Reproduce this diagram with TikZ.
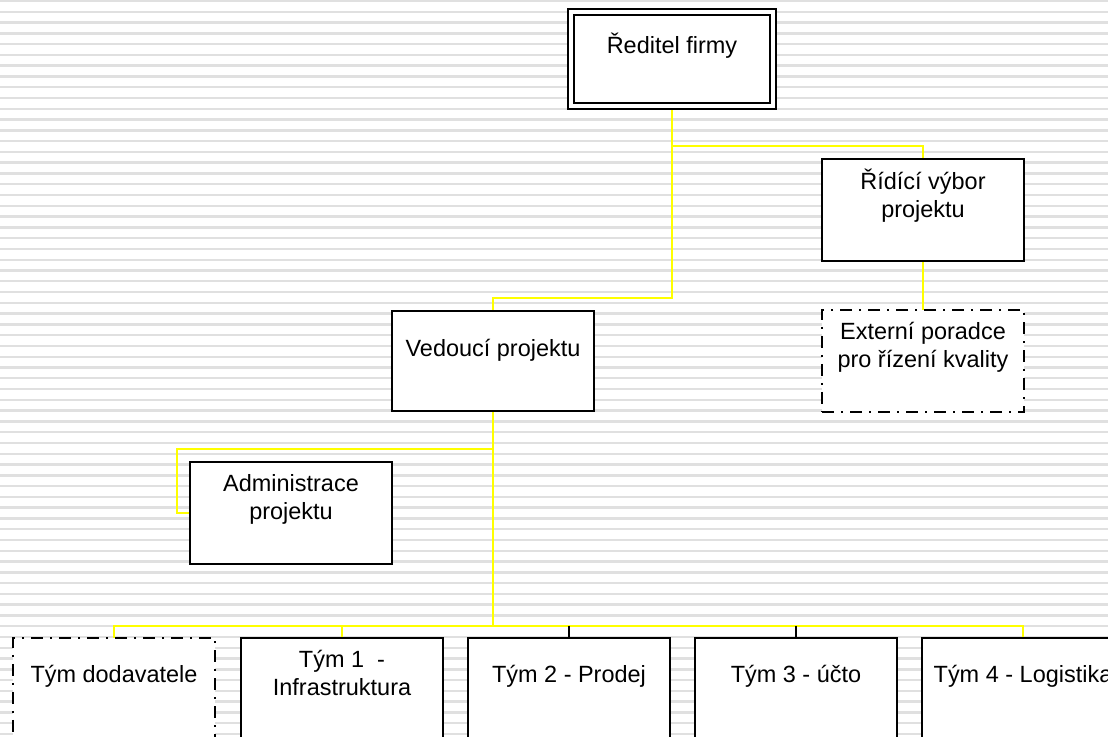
\documentclass[tikz,border=0pt]{standalone}
\usepackage{fontspec}
\setmainfont{Liberation Sans}
\usetikzlibrary{calc}
\definecolor{stripegray}{RGB}{224,224,224}
\definecolor{linkyellow}{RGB}{255,255,0}
% fixed first-line height, so every label hangs from the same baseline offset
\newcommand\firstline{\rule{0pt}{17pt}}

\begin{document}
\begin{tikzpicture}[x=0.75pt,y=-0.75pt,
  box/.style={draw=black, fill=white, line width=1.5pt, inner sep=0pt, outer sep=0pt,
              minimum width=151.5pt, minimum height=76.5pt},
  shortbox/.style={box, minimum height=75pt},
  headbox/.style={box, double, double distance=3pt, minimum height=70.7pt},
  dashbox/.style={box, dash pattern=on 9pt off 5.25pt on 1.5pt off 5.25pt},
  lbl/.style={font=\fontsize{17.6pt}{21pt}\selectfont, align=center, inner sep=0pt, anchor=north},
  conn/.style={draw=linkyellow, line width=1.5pt},
  stub/.style={draw=black, line width=1.5pt}]

\useasboundingbox (0,0) rectangle (1108,737);
\clip (0,0) rectangle (1108,737);

% striped background
\fill[white] (0,0) rectangle (1108,737);
\foreach \k in {0,...,69}
  \fill[stripegray] (0,{1+10.78*\k-1.2}) rectangle (1108,{1+10.78*\k+1.2});

% boxes (placed first as anchors; painted again below on top of the lines)
\path (672,59)   node[headbox] (dir) {};
\path (923,210)  node[box] (rid) {};
\path (923,361)  node[shortbox,dashbox] (ext) {};
\path (493,361)  node[shortbox] (ved) {};
\path (291,513)  node[box] (adm) {};
\path (114,689)  node[box,dashbox] (t0) {};
\path (342,689)  node[box] (t1) {};
\path (569,689)  node[box] (t2) {};
\path (796,689)  node[box] (t3) {};
\path (1023,689) node[box] (t4) {};

% connectors
\coordinate (j0) at ($(dir.south)+(0,192)$);
\coordinate (j1) at ($(dir.south)+(0,40)$);
\coordinate (j2) at ($(ved.south)+(0,38)$);
\coordinate (admbend) at (177,449);
\coordinate (bus) at ($(ved.south)+(0,215)$);

\draw[conn] (dir.south) -- (j0) -| (ved.north);
\draw[conn] (j1) -| (rid.north);
\draw[conn] (rid.south) -- (ext.north);
\draw[conn] (j2) -- (admbend) |- (adm.west);
\draw[conn] (ved.south) -- (bus);
\draw[conn] (bus) -| (t0.north);
\draw[conn] (bus) -| (t1.north);
\draw[conn] (bus) -| (t4.north);
\draw[stub] (t2.north |- bus) -- (t2.north);
\draw[stub] (t3.north |- bus) -- (t3.north);

% boxes on top of the connectors
\path (672,59)   node[headbox] (dirF) {};
\path (923,210)  node[box] (ridF) {};
\path (923,361)  node[shortbox,dashbox] (extF) {};
\path (493,361)  node[shortbox] (vedF) {};
\path (291,513)  node[box] (admF) {};
\path (114,689)  node[box,dashbox] (t0F) {};
\path (342,689)  node[box] (t1F) {};
\path (569,689)  node[box] (t2F) {};
\path (796,689)  node[box] (t3F) {};
\path (1023,689) node[box] (t4F) {};

% labels
\node[lbl] (dirT) at ($(dir.north)+(0,18.3)$) {\firstline Ředitel firmy};
\node[lbl] (ridT) at ($(rid.north)+(0,7.8)$)  {\firstline Řídící výbor\\projektu};
\node[lbl] (extT) at ($(ext.north)+(0,6.8)$)  {\firstline Externí poradce\\pro řízení kvality};
\node[lbl] (vedT) at ($(ved.north)+(0,22.3)$) {\firstline Vedoucí projektu};
\node[lbl] (admT) at ($(adm.north)+(0,6.8)$)  {\firstline Administrace\\projektu};
\node[lbl] (t0T)  at ($(t0.north)+(0,21.8)$)  {\firstline Tým dodavatele};
\node[lbl] (t1T)  at ($(t1.north)+(0,6.5)$)   {\firstline Tým 1~ -\\Infrastruktura};
\node[lbl] (t2T)  at ($(t2.north)+(0,21.8)$)  {\firstline Tým 2 - Prodej};
\node[lbl] (t3T)  at ($(t3.north)+(0,21.8)$)  {\firstline Tým 3 - účto};
\node[lbl] (t4T)  at ($(t4.north)+(0,21.8)$)  {\firstline Tým 4 - Logistika};
\end{tikzpicture}
\end{document}
